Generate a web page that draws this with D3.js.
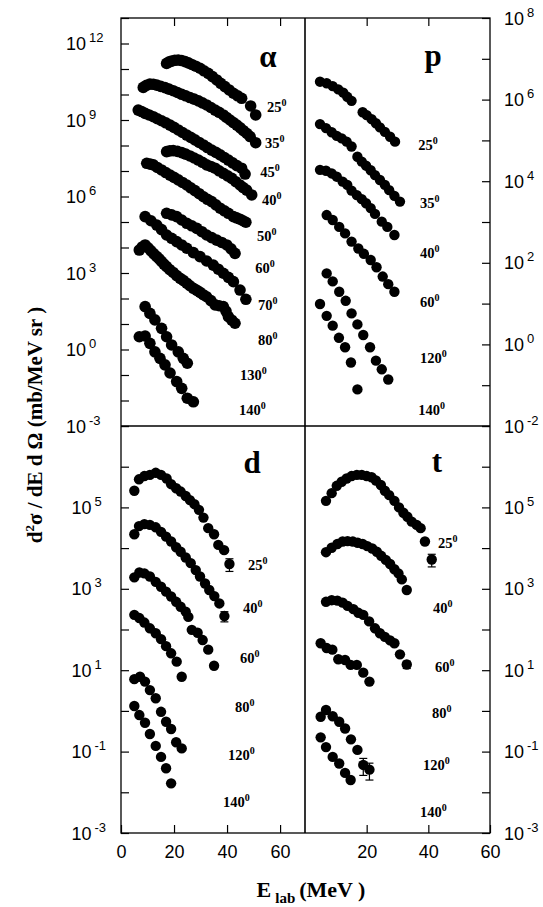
<!DOCTYPE html>
<html>
<head>
<meta charset="utf-8">
<script src="https://cdn.jsdelivr.net/npm/d3@7"></script>
<style>
  body { margin: 0; background: #fff; }
  svg { display: block; }
  .tick text { font-family: "Liberation Sans", Arial, sans-serif; font-size: 18px; }
</style>
</head>
<body>
<svg id="chart" width="543" height="907"></svg>
<script>
// Double differential cross sections, alpha / p / d / t, four log panels

///////////////////////////////////////////////////////////////////////////////
// Data -- [E (MeV), d2sigma/dEdOmega (mb/MeV sr), error]

var alphaAngles = ["25", "35", "45", "40", "50", "60", "70", "80", "130", "140"];
var alphaSeries = [
  [[17.2,1.66e11],[18.2,1.9e11],[19.1,2.04e11],[20.3,2.19e11],[21.6,2.24e11],[22.9,2.14e11],
   [24.2,1.95e11],[25.4,1.74e11],[26.7,1.51e11],[28.2,1.29e11],[29.8,1.07e11],[31.3,8.51e10],
   [32.9,6.76e10],[34.5,5.01e10],[36.1,3.72e10],[37.6,2.75e10],[39.2,2.04e10],[40.8,1.51e10],
   [42.4,1.12e10],[44.0,8.91e9],[45.5,7.08e9],[48.9,3.55e9],[50.8,1.58e9]],
  [[8.4,1.9e10],[9.6,2.29e10],[10.9,2.57e10],[12.2,2.51e10],[13.5,2.34e10],[15.0,2.09e10],
   [16.6,1.86e10],[18.1,1.62e10],[19.7,1.41e10],[21.3,1.2e10],[22.9,1.02e10],[24.4,8.91e9],
   [26.0,7.59e9],[27.6,6.61e9],[29.2,5.62e9],[30.7,4.68e9],[32.3,3.89e9],[33.9,3.09e9],
   [35.5,2.45e9],[37.0,2.0e9],[38.6,1.58e9],[39.8,1.26e9],[41.1,1.0e9],[42.4,7.94e8],
   [43.7,6.31e8],[45.0,4.9e8],[46.2,3.8e8],[47.5,2.95e8],[48.7,2.24e8],[50.8,1.29e8]],
  [[6.5,2.45e9],[7.8,2.14e9],[9.1,1.82e9],[10.6,1.58e9],[12.2,1.35e9],[13.7,1.12e9],
   [15.3,9.33e8],[16.9,7.76e8],[18.5,6.31e8],[20.0,5.13e8],[21.6,4.07e8],[23.2,3.24e8],
   [24.8,2.57e8],[26.3,2.09e8],[27.9,1.66e8],[29.5,1.32e8],[31.1,1.05e8],[32.6,8.32e7],
   [34.2,6.61e7],[35.8,5.37e7],[37.4,4.27e7],[39.0,3.39e7],[40.5,2.69e7],[42.1,2.09e7],
   [43.7,1.62e7],[45.5,1.29e7],[46.8,7.59e6]],
  [[17.2,5.75e7],[18.4,6.17e7],[19.7,6.31e7],[21.3,5.89e7],[22.9,5.25e7],[24.4,4.57e7],
   [26.0,3.89e7],[27.6,3.24e7],[29.2,2.69e7],[30.7,2.19e7],[32.3,1.74e7],[33.9,1.51e7],
   [35.5,1.29e7],[37.0,1.02e7],[38.6,8.13e6],[40.2,6.46e6],[41.8,5.13e6],[43.3,3.8e6],
   [44.9,2.82e6],[46.1,2.24e6],[47.4,1.78e6],[49.3,1.15e6]],
  [[9.7,2.0e7],[11.0,1.86e7],[12.2,1.74e7],[13.7,1.38e7],[15.3,1.1e7],[16.9,8.71e6],
   [18.5,6.92e6],[20.0,5.62e6],[21.6,4.47e6],[23.2,3.55e6],[24.8,2.82e6],[26.3,2.19e6],
   [27.9,1.7e6],[29.5,1.29e6],[31.1,9.77e5],[32.6,7.76e5],[34.2,6.31e5],[35.8,4.68e5],
   [37.4,3.47e5],[39.0,2.75e5],[40.5,2.19e5],[42.4,1.62e5],[43.6,1.45e5],[44.9,1.29e5],
   [46.0,1.12e5],[47.1,9.77e4]],
  [[17.2,2.19e5],[19.1,1.9e5],[21.0,1.62e5],[22.9,1.2e5],[24.8,8.91e4],[26.7,7.08e4],
   [28.6,5.62e4],[30.5,4.17e4],[32.3,3.09e4],[34.2,2.45e4],[36.1,1.95e4],[38.0,1.58e4],
   [39.9,1.26e4],[41.5,8.91e3],[43.0,5.89e3]],
  [[9.1,1.62e5],[11.3,1.12e5],[13.5,7.59e4],[15.3,5.01e4],[17.2,3.09e4],[19.1,2.29e4],
   [21.0,1.7e4],[22.9,1.26e4],[24.8,9.33e3],[27.3,6.31e3],[29.8,4.37e3],[32.3,2.95e3],
   [34.8,2.04e3],[36.7,1.41e3],[38.6,977],[40.5,676],[42.4,457],[44.9,214],[47.1,93]],
  [[6.9,7.94e3],[8.0,1.05e4],[9.1,1.26e4],[10.2,9.77e3],[11.3,7.41e3],[12.4,5.62e3],
   [13.5,4.37e3],[14.4,3.55e3],[15.3,2.82e3],[16.2,2.24e3],[17.2,1.78e3],[18.4,1.35e3],
   [19.7,1.05e3],[21.0,794],[22.3,617],[23.6,501],[24.8,398],[26.0,316],[27.3,251],
   [28.6,209],[29.8,174],[31.0,141],[32.3,117],[33.9,83],[35.5,56],[37.0,52],[38.6,48],
   [39.6,32],[40.5,19.5],[41.8,14.1],[43.0,10.7]],
  [[9.1,48],[10.9,26],[12.8,14.5],[15.3,6.76],[17.2,3.16],[19.1,1.51],[21.6,0.81],
   [23.5,0.45],[25.0,0.29]],
  [[6.9,3.16],[9.1,3.39],[10.9,1.74],[12.8,0.81],[14.7,0.45],[16.6,0.25],[18.5,0.12],
   [21.0,0.055],[22.9,0.030],[25.0,0.0123],[27.3,0.0089]]
];
var alphaLabelAt = [[55.1,2.04e9],[54.3,7.94e7],[52.5,5.75e6],[53.2,4.68e5],[51.3,1.78e4],
  [50.6,1.0e3],[51.7,35],[51.7,1.5],[44.9,0.063],[44.5,0.0027]];

var protonAngles = ["25", "35", "40", "60", "120", "140"];
var protonSeries = [
  [[4.87,2.75e6],[7.03,2.51e6],[8.98,2.14e6],[10.8,1.78e6],[12.4,1.48e6],[13.7,1.17e6],
   [15.1,9.33e5],[18.7,4.9e5],[20.0,4.17e5],[21.6,3.31e5],[23.0,2.63e5],[24.3,2.09e5],
   [25.9,1.62e5],[27.6,1.23e5],[29.2,9.33e4]],
  [[4.87,2.51e5],[6.81,2.0e5],[8.65,1.58e5],[10.3,1.29e5],[11.9,1.12e5],[13.5,9.33e4],
   [15.1,7.08e4],[17.0,3.98e4],[18.4,3.02e4],[19.8,2.4e4],[21.3,1.86e4],[22.7,1.41e4],
   [24.3,1.07e4],[25.9,8.13e3],[27.3,6.03e3],[29.0,4.37e3],[30.8,3.16e3]],
  [[4.87,1.9e4],[6.81,1.8e4],[8.65,1.55e4],[10.3,1.29e4],[12.2,9.77e3],[13.7,8.13e3],
   [15.1,5.89e3],[16.8,4.57e3],[18.4,3.63e3],[19.8,2.88e3],[21.3,2.19e3],[22.7,1.58e3],
   [24.9,1.02e3],[26.7,759],[29.0,479]],
  [[7.03,1.48e3],[8.98,1.12e3],[11.1,759],[13.0,525],[15.1,331],[17.3,224],[19.1,166],
   [21.3,117],[23.2,78],[25.2,46],[27.0,30],[29.0,19.5]],
  [[7.03,55],[8.98,35],[11.1,19.5],[13.2,11.7],[15.1,5.75],[17.0,3.09],[18.9,1.7],
   [21.1,0.85],[23.0,0.40],[24.9,0.245],[27.0,0.138]],
  [[4.87,9.77],[7.03,5.01],[8.98,2.88],[11.0,1.45],[13.0,0.85],[14.9,0.36],[17.0,0.079]]
];
var protonLabelAt = [[36.7,5.75e4],[37.3,2.19e3],[37.3,132],[37.3,8.3],[37.3,0.35],[36.7,0.0186]];

var deutAngles = ["25", "40", "60", "80", "120", "140"];
var deutSeries = [
  [[5.03,2.57e5],[6.79,4.9e5],[8.81,5.89e5],[10.9,6.31e5],[13.1,7.08e5],[15.1,6.31e5],
   [17.2,5.13e5],[18.9,3.72e5],[20.8,2.95e5],[22.5,2.45e5],[24.4,1.91e5],[26.0,1.51e5],
   [27.7,1.2e5],[29.4,8.71e4],[31.1,5.62e4],[32.9,3.09e4],[35.1,2.19e4],[36.7,1.2e4],
   [38.9,8.91e3],[40.9,4.07e3,1.4e3]],
  [[5.03,2.19e4],[6.79,3.47e4],[8.81,3.89e4],[10.9,3.72e4],[13.1,3.24e4],[15.1,2.51e4],
   [17.0,1.91e4],[18.9,1.45e4],[20.8,1.05e4],[22.5,8.13e3],[24.4,5.89e3],[26.3,4.27e3],
   [28.2,2.88e3],[29.8,2.0e3],[31.7,1.35e3],[33.3,933],[35.2,661],[37.1,437],[39.0,214,60]],
  [[5.03,1.91e3],[6.92,2.51e3],[8.81,2.4e3],[10.9,2.0e3],[13.1,1.48e3],[15.1,1.12e3],
   [17.0,851],[18.9,646],[20.8,479],[22.5,363],[24.4,275],[25.4,204],[26.7,98],[28.9,83],
   [30.8,55],[32.9,32],[35.1,12.9]],
  [[5.03,229],[6.92,191],[8.81,148],[10.9,107],[13.1,81],[15.1,58],[17.0,39],[18.9,26],
   [21.0,16.2],[22.9,6.9]],
  [[5.03,6.03],[7.17,6.92],[9.06,5.25],[10.9,3.24],[13.1,2.04],[15.1,0.95],[17.0,0.54],
   [18.9,0.36],[20.8,0.17],[22.9,0.12]],
  [[5.03,1.32],[6.92,0.79],[9.06,0.51],[10.9,0.27],[13.1,0.138],[15.1,0.074],[17.0,0.039],
   [18.9,0.0166]]
];
var deutLabelAt = [[47.9,2.88e3],[46.0,257],[44.9,15.1],[43.0,0.93],[40.4,0.062],[38.5,0.0044]];

var tritAngles = ["25", "40", "60", "80", "120", "140"];
var tritSeries = [
  [[6.81,1.45e5],[8.65,2.24e5],[10.3,3.39e5],[11.9,4.27e5],[13.5,5.13e5],[15.1,5.89e5],
   [16.8,6.31e5],[18.4,6.31e5],[20.0,5.89e5],[21.6,5.5e5],[23.0,4.57e5],[24.6,3.55e5],
   [25.9,2.57e5],[27.3,2.0e5],[29.0,1.45e5],[30.5,1.0e5],[31.9,7.41e4],[33.2,5.89e4],
   [34.6,4.47e4],[36.2,3.72e4],[37.5,3.09e4],[38.9,1.45e4],[41.1,5.25e3,1.8e3]],
  [[6.81,7.94e3],[8.65,1.02e4],[10.5,1.26e4],[12.2,1.45e4],[13.8,1.48e4],[15.5,1.45e4],
   [17.1,1.35e4],[18.7,1.26e4],[20.2,1.12e4],[21.8,9.77e3],[23.3,8.13e3],[24.7,6.46e3],
   [26.2,5.13e3],[27.6,4.07e3],[29.0,3.02e3],[30.3,2.4e3],[31.4,1.7e3],[33.0,933]],
  [[6.81,479],[8.65,525],[10.5,513],[12.2,457],[13.8,380],[15.7,316],[17.3,257],[18.9,229],
   [20.8,158],[22.7,107],[24.3,81],[25.9,66],[27.6,54],[29.0,46],[30.8,24.5],[33.0,13.8,2.8]],
  [[5.08,46],[7.03,35],[8.87,32],[10.8,18.6],[13.0,17.8],[14.8,13.5],[16.8,13.5],[18.9,8.7],
   [20.9,5.25]],
  [[5.08,0.72],[6.81,1.05],[8.98,0.74],[11.1,0.54],[13.0,0.37],[14.9,0.20],[17.0,0.11],
   [18.9,0.047,0.021],[20.9,0.036,0.016]],
  [[5.08,0.224],[6.81,0.129],[8.98,0.074],[11.1,0.051],[13.0,0.030],[14.8,0.020]]
];
var tritLabelAt = [[43.1,1.0e4],[41.5,257],[42.2,9.1],[41.2,0.68],[38.3,0.035],[37.3,0.0025]];

// tick labels (powers of ten) and energy ticks
var alphaTickExp = [12, 9, 6, 3, 0, -3];
var protonTickExp = [8, 6, 4, 2, 0, -2];
var bottomTickExp = [5, 3, 1, -1, -3];
var leftEnergyTicks = [0, 20, 40, 60];
var rightEnergyTicks = [20, 40, 60];

///////////////////////////////////////////////////////////////////////////////
// Scales

var svg = d3.select("#chart");
var L = 121, M = 305, R = 490, T = 18, MY = 426, B = 833;

var xLeft = d3.scaleLinear().domain([0, 69.4]).range([L, M]);
var xRight = d3.scaleLinear().domain([0, 60]).range([M, R]);
var yAlpha = d3.scaleLog().domain([1e-3, 1e13]).range([MY, T]);
var yProton = d3.scaleLog().domain([1e-2, 1e8]).range([MY, T]);
var yBottom = d3.scaleLog().domain([1e-3, 1e7]).range([B, MY]);

var decades = function (lo, hi) {
  return d3.range(lo, hi + 1).map(function (e) { return Math.pow(10, e); });
};

var panels = [
  { letter: "α", series: alphaSeries, angles: alphaAngles, labelAt: alphaLabelAt,
    x: xLeft, y: yAlpha, r: 5.8, lx: 268, ly: 67 },
  { letter: "p", series: protonSeries, angles: protonAngles, labelAt: protonLabelAt,
    x: xRight, y: yProton, r: 5.2, lx: 433, ly: 66 },
  { letter: "d", series: deutSeries, angles: deutAngles, labelAt: deutLabelAt,
    x: xLeft, y: yBottom, r: 5.2, lx: 252, ly: 473 },
  { letter: "t", series: tritSeries, angles: tritAngles, labelAt: tritLabelAt,
    x: xRight, y: yBottom, r: 5.2, lx: 437, ly: 472 }
];

///////////////////////////////////////////////////////////////////////////////
// Axes (ticks point inward)

var cleanAxis = function (g) {
  g.select(".domain").remove();
  g.selectAll(".tick line").attr("stroke-width", 1.2);
};

svg.append("g").attr("transform", "translate(" + L + ",0)")
  .call(d3.axisLeft(yAlpha).tickValues(decades(-3, 13)).tickSize(-8).tickFormat(""))
  .call(cleanAxis);
svg.append("g").attr("transform", "translate(" + R + ",0)")
  .call(d3.axisRight(yProton).tickValues(decades(-2, 8)).tickSize(-8).tickFormat(""))
  .call(cleanAxis);
svg.append("g").attr("transform", "translate(" + L + ",0)")
  .call(d3.axisLeft(yBottom).tickValues(decades(-3, 7)).tickSize(-8).tickFormat(""))
  .call(cleanAxis);
svg.append("g").attr("transform", "translate(" + R + ",0)")
  .call(d3.axisRight(yBottom).tickValues(decades(-3, 7)).tickSize(-8).tickFormat(""))
  .call(cleanAxis);

svg.append("g").attr("transform", "translate(0," + T + ")")
  .call(d3.axisTop(xLeft).tickValues([20, 40, 60]).tickSize(-8).tickFormat(""))
  .call(cleanAxis);
svg.append("g").attr("transform", "translate(0," + T + ")")
  .call(d3.axisTop(xRight).tickValues([20, 40]).tickSize(-8).tickFormat(""))
  .call(cleanAxis);
svg.append("g").attr("transform", "translate(0," + B + ")")
  .call(d3.axisBottom(xLeft).tickValues(leftEnergyTicks).tickSize(-8).tickPadding(12))
  .call(cleanAxis);
svg.append("g").attr("transform", "translate(0," + B + ")")
  .call(d3.axisBottom(xRight).tickValues(rightEnergyTicks).tickSize(-8).tickPadding(12))
  .call(cleanAxis);

// power-of-ten labels, "10" with a raised exponent
var powLabels = function (exps, scale, x) {
  var t = svg.append("g").selectAll("text").data(exps).enter().append("text")
    .attr("x", x)
    .attr("y", function (e) { return scale(Math.pow(10, e)) + 6.5; })
    .attr("font-family", "Liberation Sans, Arial, sans-serif")
    .attr("font-size", 18)
    .text("10");
  t.append("tspan").attr("dx", 3).attr("dy", -8).attr("font-size", 13)
    .text(function (e) { return e; });
};
powLabels(alphaTickExp, yAlpha, 66);
powLabels(protonTickExp, yProton, 504);
powLabels(bottomTickExp, yBottom, 71.5);
powLabels(bottomTickExp, yBottom, 504);

///////////////////////////////////////////////////////////////////////////////
// Frame and panel dividers

svg.append("rect").attr("x", L).attr("y", T).attr("width", R - L).attr("height", B - T)
  .attr("fill", "none").attr("stroke", "#000").attr("stroke-width", 1.3);
svg.append("line").attr("x1", M).attr("x2", M).attr("y1", T).attr("y2", B)
  .attr("stroke", "#000").attr("stroke-width", 1.6);
svg.append("line").attr("x1", L).attr("x2", R).attr("y1", MY).attr("y2", MY)
  .attr("stroke", "#000").attr("stroke-width", 1.6);

///////////////////////////////////////////////////////////////////////////////
// Data points, error bars and angle labels

panels.forEach(function (p) {
  var g = svg.append("g");
  var pts = [];
  p.series.forEach(function (s) { s.forEach(function (d) { pts.push(d); }); });

  var errs = pts.filter(function (d) { return d.length > 2; });
  var eb = g.selectAll("g.err").data(errs).enter().append("g").attr("class", "err")
    .attr("stroke", "#000").attr("stroke-width", 1.2);
  eb.append("line")
    .attr("x1", function (d) { return p.x(d[0]); }).attr("x2", function (d) { return p.x(d[0]); })
    .attr("y1", function (d) { return p.y(d[1] + d[2]); })
    .attr("y2", function (d) { return p.y(d[1] - d[2]); });
  [1, -1].forEach(function (sgn) {
    eb.append("line")
      .attr("x1", function (d) { return p.x(d[0]) - 4; })
      .attr("x2", function (d) { return p.x(d[0]) + 4; })
      .attr("y1", function (d) { return p.y(d[1] + sgn * d[2]); })
      .attr("y2", function (d) { return p.y(d[1] + sgn * d[2]); });
  });

  g.selectAll("circle").data(pts).enter().append("circle")
    .attr("cx", function (d) { return p.x(d[0]); })
    .attr("cy", function (d) { return p.y(d[1]); })
    .attr("r", p.r)
    .attr("fill", "#000");

  var lab = g.selectAll("text.angle").data(p.angles).enter().append("text")
    .attr("class", "angle")
    .attr("x", function (a, i) { return p.x(p.labelAt[i][0]); })
    .attr("y", function (a, i) { return p.y(p.labelAt[i][1]); })
    .attr("font-family", "Liberation Serif, Times New Roman, serif")
    .attr("font-weight", "bold")
    .attr("font-size", 14.5)
    .text(function (a) { return a; });
  lab.append("tspan").attr("dy", -6).attr("font-size", 10).text("0");

  g.append("text").attr("x", p.lx).attr("y", p.ly)
    .attr("text-anchor", "middle")
    .attr("font-family", "Liberation Serif, Times New Roman, serif")
    .attr("font-weight", "bold")
    .attr("font-size", 31)
    .text(p.letter);
});

///////////////////////////////////////////////////////////////////////////////
// Axis titles

var xt = svg.append("text").attr("x", 311).attr("y", 897)
  .attr("text-anchor", "middle")
  .attr("font-family", "Liberation Serif, Times New Roman, serif")
  .attr("font-weight", "bold").attr("font-size", 22);
xt.append("tspan").text("E");
xt.append("tspan").attr("dx", 4).attr("dy", 6).attr("font-size", 15).text("lab");
xt.append("tspan").attr("dx", 4).attr("dy", -6).text("(MeV )");

var yt = svg.append("text").attr("transform", "translate(41.5,425) rotate(-90)")
  .attr("text-anchor", "middle")
  .attr("font-family", "Liberation Serif, Times New Roman, serif")
  .attr("font-weight", "bold").attr("font-size", 21);
yt.append("tspan").text("d");
yt.append("tspan").attr("dy", -8).attr("font-size", 13).text("2");
yt.append("tspan").attr("dy", 8).text("σ / dE d Ω (mb/MeV sr )");
</script>
</body>
</html>
